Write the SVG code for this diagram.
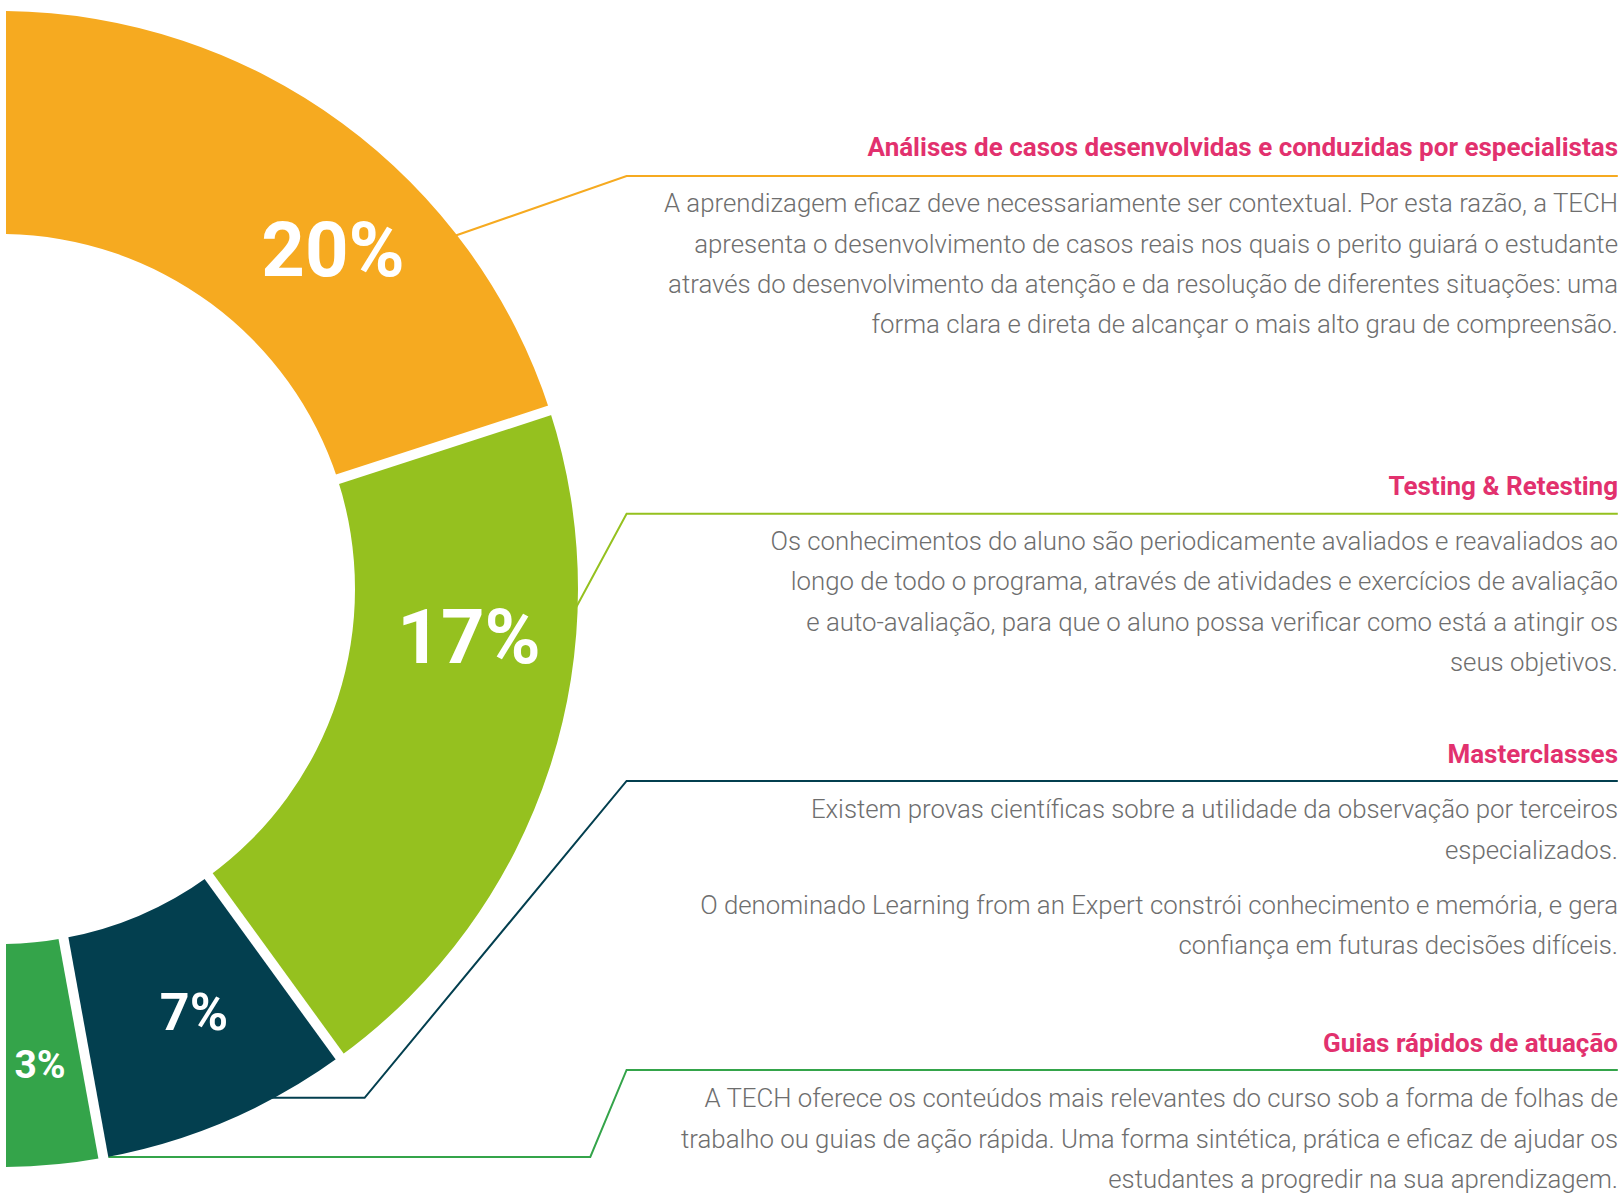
<svg xmlns="http://www.w3.org/2000/svg" width="1624" height="1194" viewBox="0 0 1624 1194">
<style>
.t{font-family:Roboto,"Liberation Sans",sans-serif;font-weight:700;font-size:26px;fill:#E2316E;text-anchor:end}
.b{font-family:Roboto,"Liberation Sans",sans-serif;font-weight:300;font-size:25.8px;fill:#6E6E6E;text-anchor:end}
.p{font-family:Roboto,"Liberation Sans",sans-serif;font-weight:700;fill:#FFFFFF;text-anchor:middle}
.c{fill:none;stroke-width:2}
.gap{stroke:#FFFFFF;stroke-width:10;fill:none}
</style>
<rect width="1624" height="1194" fill="#FFFFFF"/>
<g id="connectors">
<polyline class="c" stroke="#F6AA20" points="440,241 626.6,176.1 1617.8,176.1"/>
<polyline class="c" stroke="#95C11F" points="572,615 626.6,513.7 1617.8,513.7"/>
<polyline class="c" stroke="#033F4F" points="268,1097.8 364.6,1097.8 626.6,780.9 1617.8,780.9"/>
<polyline class="c" stroke="#34A44A" points="104,1156.9 590.3,1156.9 626.6,1069.9 1617.8,1069.9"/>
</g>
<g id="seg-20">
<path fill="#F6AA20" d="M6,11.03 A578,578 0 0 1 549.71,410.39 L337.63,479.30 A355,355 0 0 0 6,234.05 Z"/>
<text class="p" x="333" y="276" font-size="76">20%</text>
</g>
<g id="seg-17">
<path fill="#95C11F" d="M549.71,410.39 A578,578 0 0 1 339.74,1056.61 L208.67,876.20 A355,355 0 0 0 337.63,479.30 Z"/>
<text class="p" x="469" y="663" font-size="76">17%</text>
</g>
<g id="seg-7">
<path fill="#033F4F" d="M339.74,1056.61 A578,578 0 0 1 103.35,1157.69 L63.47,938.28 A355,355 0 0 0 208.67,876.20 Z"/>
<text class="p" x="194" y="1030" font-size="52">7%</text>
</g>
<g id="seg-3">
<path fill="#34A44A" d="M103.35,1157.69 A578,578 0 0 1 6,1166.97 L6,943.95 A355,355 0 0 0 63.47,938.28 Z"/>
<text class="p" x="40" y="1078" font-size="39">3%</text>
</g>
<g id="gaps">
<line class="gap" x1="332.87" y1="480.84" x2="554.47" y2="408.85"/>
<line class="gap" x1="205.73" y1="872.16" x2="342.68" y2="1060.66"/>
<line class="gap" x1="62.58" y1="933.36" x2="104.24" y2="1162.61"/>
</g>
<g id="node-analises">
<text class="t" x="1618" y="156">Análises de casos desenvolvidas e conduzidas por especialistas</text>
<text class="b" x="1618" y="212">A aprendizagem eficaz deve necessariamente ser contextual. Por esta razão, a TECH</text>
<text class="b" x="1618" y="252.5">apresenta o desenvolvimento de casos reais nos quais o perito guiará o estudante</text>
<text class="b" x="1618" y="293">através do desenvolvimento da atenção e da resolução de diferentes situações: uma</text>
<text class="b" x="1618" y="333">forma clara e direta de alcançar o mais alto grau de compreensão.</text>
</g>
<g id="node-testing">
<text class="t" x="1618" y="495">Testing &amp; Retesting</text>
<text class="b" x="1618" y="550">Os conhecimentos do aluno são periodicamente avaliados e reavaliados ao</text>
<text class="b" x="1618" y="590.4">longo de todo o programa, através de atividades e exercícios de avaliação</text>
<text class="b" x="1618" y="630.8">e auto-avaliação, para que o aluno possa verificar como está a atingir os</text>
<text class="b" x="1618" y="671">seus objetivos.</text>
</g>
<g id="node-masterclasses">
<text class="t" x="1618" y="762.5">Masterclasses</text>
<text class="b" x="1618" y="818">Existem provas científicas sobre a utilidade da observação por terceiros</text>
<text class="b" x="1618" y="858.5">especializados.</text>
<text class="b" x="1618" y="913.5">O denominado Learning from an Expert constrói conhecimento e memória, e gera</text>
<text class="b" x="1618" y="954">confiança em futuras decisões difíceis.</text>
</g>
<g id="node-guias">
<text class="t" x="1618" y="1052">Guias rápidos de atuação</text>
<text class="b" x="1618" y="1107">A TECH oferece os conteúdos mais relevantes do curso sob a forma de folhas de</text>
<text class="b" x="1618" y="1147.5">trabalho ou guias de ação rápida. Uma forma sintética, prática e eficaz de ajudar os</text>
<text class="b" x="1618" y="1188">estudantes a progredir na sua aprendizagem.</text>
</g>
</svg>
